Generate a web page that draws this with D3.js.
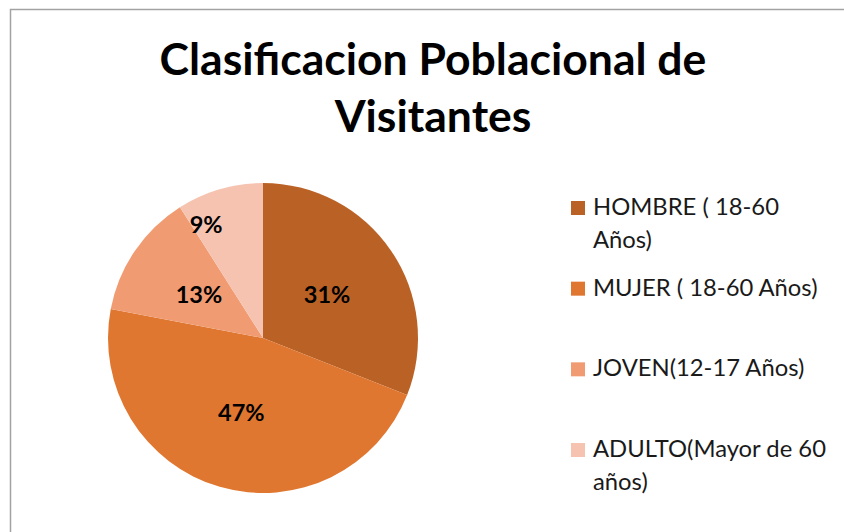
<!DOCTYPE html>
<html>
<head>
<meta charset="utf-8">
<script src="https://cdn.jsdelivr.net/npm/d3@7"></script>
<style>
  html, body { margin: 0; padding: 0; background: #fff; }
  svg { display: block; }
  text { font-family: Lato, "Open Sans", sans-serif; }
</style>
</head>
<body>
<div id="chart"></div>
<script>
// Chart data
const titleLines = ['Clasificacion Poblacional de', 'Visitantes'];
const categories = ['HOMBRE ( 18-60 Años)', 'MUJER ( 18-60 Años)', 'JOVEN(12-17 Años)', 'ADULTO(Mayor de 60 años)'];
const shares = [31, 47, 13, 9];
const sliceColors = ['#ba6126', '#e07730', '#f09b72', '#f6c3b0'];

const width = 844;
const height = 532;

const svg = d3.select('#chart').append('svg')
  .attr('width', width)
  .attr('height', height);

// Chart area frame (only top and left edges are visible in the crop)
svg.append('path')
  .attr('d', `M10.5,${height} L10.5,9.5 L${width},9.5`)
  .attr('fill', 'none')
  .attr('stroke', '#a3a3a3')
  .attr('stroke-width', 1.5);

// Title
svg.append('g')
  .selectAll('text')
  .data(titleLines)
  .enter()
  .append('text')
  .attr('x', 433)
  .attr('y', (d, i) => 75 + i * 57)
  .attr('text-anchor', 'middle')
  .style('font-size', '44.5px')
  .style('font-weight', 'bold')
  .style('fill', '#000')
  .text(d => d);

// Pie
const cx = 263, cy = 338, radius = 155;
const data = categories.map((c, i) => ({ name: c, value: shares[i] }));

const pie = d3.pie()
  .value(d => d.value)
  .sort(null);

const arc = d3.arc().innerRadius(0).outerRadius(radius);
const labelArc = d3.arc().innerRadius(radius * 0.5).outerRadius(radius * 0.5);
const outerLabelArc = d3.arc().innerRadius(radius * 0.76).outerRadius(radius * 0.76);

const color = d3.scaleOrdinal().domain(categories).range(sliceColors);

const g = svg.append('g').attr('transform', `translate(${cx},${cy})`);
const arcs = pie(data);

g.selectAll('path.slice')
  .data(arcs)
  .enter()
  .append('path')
  .attr('class', 'slice')
  .attr('d', arc)
  .attr('fill', d => color(d.data.name));

// Data labels: narrow slices get pushed outward (best fit)
g.selectAll('text.pct')
  .data(arcs)
  .enter()
  .append('text')
  .attr('class', 'pct')
  .attr('transform', d => {
    const narrow = d.endAngle - d.startAngle < 0.7;
    const [x, y] = narrow ? outerLabelArc.centroid(d) : labelArc.centroid(d);
    return `translate(${narrow ? x - 24 : x},${y})`;
  })
  .attr('dy', '0.36em')
  .attr('text-anchor', 'middle')
  .style('font-size', '23.5px')
  .style('font-weight', 'bold')
  .style('fill', '#000')
  .text(d => `${d.data.value}%`);

// Legend
const legendY = d3.scalePoint()
  .domain(categories)
  .range([201, 443]);

const legend = svg.append('g').attr('class', 'legend');
const items = legend.selectAll('.legend-item')
  .data(categories)
  .enter()
  .append('g')
  .attr('class', 'legend-item')
  .attr('transform', d => `translate(571,${legendY(d)})`);

items.append('rect')
  .attr('width', 14)
  .attr('height', 14)
  .attr('fill', d => color(d));

const maxTextWidth = 240;
items.each(function (d) {
  const t = d3.select(this).append('text')
    .attr('x', 22)
    .attr('y', 14)
    .style('font-size', '23.8px')
    .style('fill', '#1a1a1a');
  // wrap words to fit the legend column
  const words = d.split(' ');
  let line = [];
  let tspan = t.append('tspan').attr('x', 22).attr('dy', 0);
  words.forEach(w => {
    line.push(w);
    tspan.text(line.join(' '));
    if (tspan.node().getComputedTextLength() > maxTextWidth && line.length > 1) {
      line.pop();
      tspan.text(line.join(' '));
      line = [w];
      tspan = t.append('tspan').attr('x', 22).attr('dy', 33).text(w);
    }
  });
});
</script>
</body>
</html>
